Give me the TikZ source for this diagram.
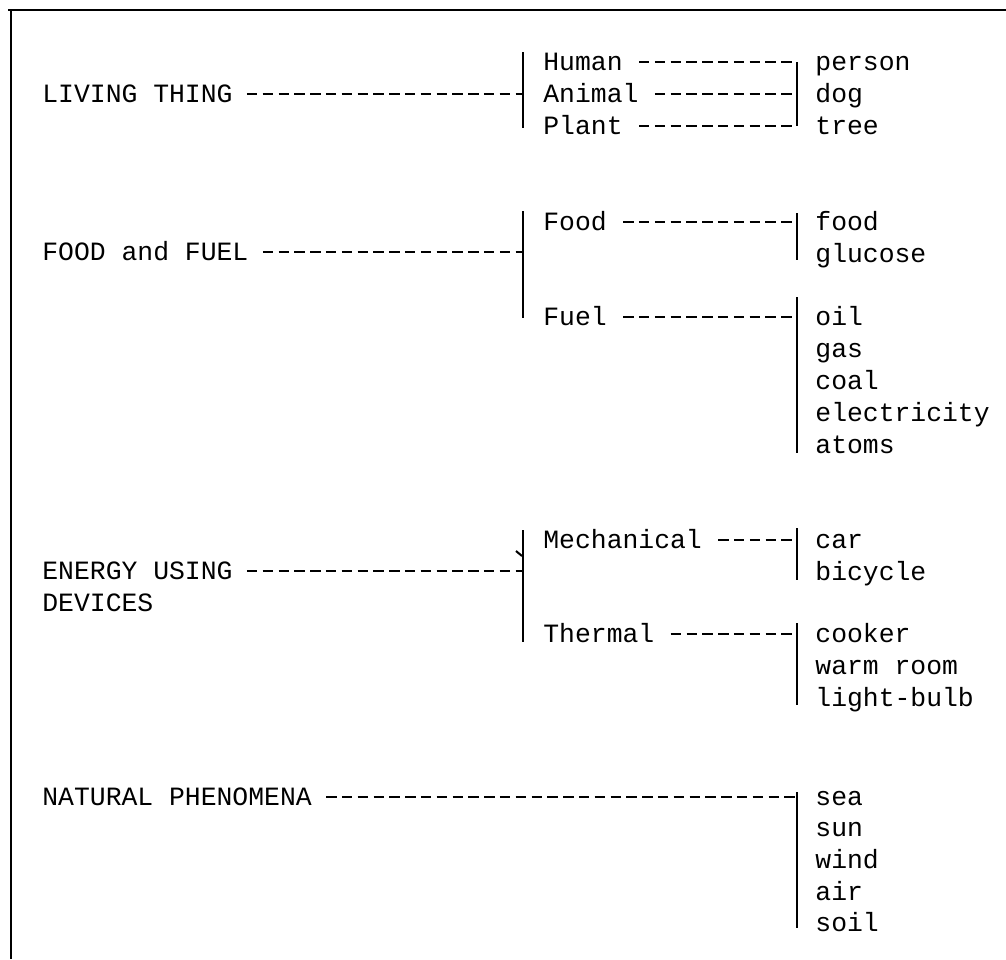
\documentclass[tikz,border=0pt]{standalone}
\usepackage{fontspec}
\setmonofont{Liberation Mono}
\tikzset{
	word/.style={anchor=west, inner sep=0pt, font=\ttfamily\fontsize{13.2}{16}\selectfont, text height=8.6pt, text depth=0pt},
	leader/.style={line width=0.7pt, dash pattern=on 5.2pt off 2.7pt},
	barline/.style={line width=1pt}
}

\begin{document}
\begin{tikzpicture}[x=0.5pt, y=-0.5pt]
	\useasboundingbox (0,0) rectangle (1006,959);
	\draw[line width=1pt] (1006,10) -- (8,10);
	\draw[line width=1pt] (11,10) -- (11,959);
	\coordinate (lbar) at (523,0);
	\coordinate (rbar) at (797,0);
	% first column
	\node[word] (living) at (42,94){LIVING THING};
	\node[word] (foodfuel) at (42,252){FOOD and FUEL};
	\node[word] (energy) at (42,571){ENERGY USING};
	\node[word] (devices) at (42,603){DEVICES};
	\node[word] (natural) at (42,797){NATURAL PHENOMENA};
	% second column
	\node[word] (human) at (543,62){Human};
	\node[word] (animal) at (543,94){Animal};
	\node[word] (plant) at (543,126){Plant};
	\node[word] (food) at (543,222){Food};
	\node[word] (fuel) at (543,317){Fuel};
	\node[word] (mech) at (543,540){Mechanical};
	\node[word] (thermal) at (543,634){Thermal};
	% third column
	\node[word] (person) at (815,62){person};
	\node[word] (dog) at (815,94){dog};
	\node[word] (tree) at (815,126){tree};
	\node[word] (foodx) at (815,222){food};
	\node[word] (glucose) at (815,254){glucose};
	\node[word] (oil) at (815,317){oil};
	\node[word] (gas) at (815,349){gas};
	\node[word] (coal) at (815,381){coal};
	\node[word] (electricity) at (815,413){electricity};
	\node[word] (atoms) at (815,445){atoms};
	\node[word] (car) at (815,540){car};
	\node[word] (bicycle) at (815,572){bicycle};
	\node[word] (cooker) at (815,634){cooker};
	\node[word] (warmroom) at (815,666){warm room};
	\node[word] (bulb) at (815,698){light-bulb};
	\node[word] (sea) at (815,797){sea};
	\node[word] (sun) at (815,828){sun};
	\node[word] (wind) at (815,860){wind};
	\node[word] (air) at (815,892){air};
	\node[word] (soil) at (815,923){soil};
	% leaders
	\draw[leader] ([xshift=7pt]living.east) -- (living -| lbar);
	\draw[leader] ([xshift=7pt]foodfuel.east) -- (foodfuel -| lbar);
	\draw[leader] ([xshift=7pt]energy.east) -- (energy -| lbar);
	\draw[leader] ([xshift=7pt]natural.east) -- (natural -| rbar);
	\draw[leader] ([xshift=8pt]human.east) -- (human -| rbar);
	\draw[leader] ([xshift=8pt]animal.east) -- (animal -| rbar);
	\draw[leader] ([xshift=8pt]plant.east) -- (plant -| rbar);
	\draw[leader] ([xshift=8pt]food.east) -- (food -| rbar);
	\draw[leader] ([xshift=8pt]fuel.east) -- (fuel -| rbar);
	\draw[leader] ([xshift=8pt]mech.east) -- (mech -| rbar);
	\draw[leader] ([xshift=8pt]thermal.east) -- (thermal -| rbar);
	% bars
	\draw[barline] (523,52) -- (523,128);
	\draw[barline] (523,211) -- (523,318);
	\draw[barline] (523,530) -- (523,642);
	\draw[barline] (516,551) -- (522,556);
	\draw[barline] (797,62) -- (797,126);
	\draw[barline] (797,213) -- (797,260);
	\draw[barline] (797,297) -- (797,453);
	\draw[barline] (797,528) -- (797,580);
	\draw[barline] (797,623) -- (797,705);
	\draw[barline] (797,792) -- (797,928);
\end{tikzpicture}
\end{document}
